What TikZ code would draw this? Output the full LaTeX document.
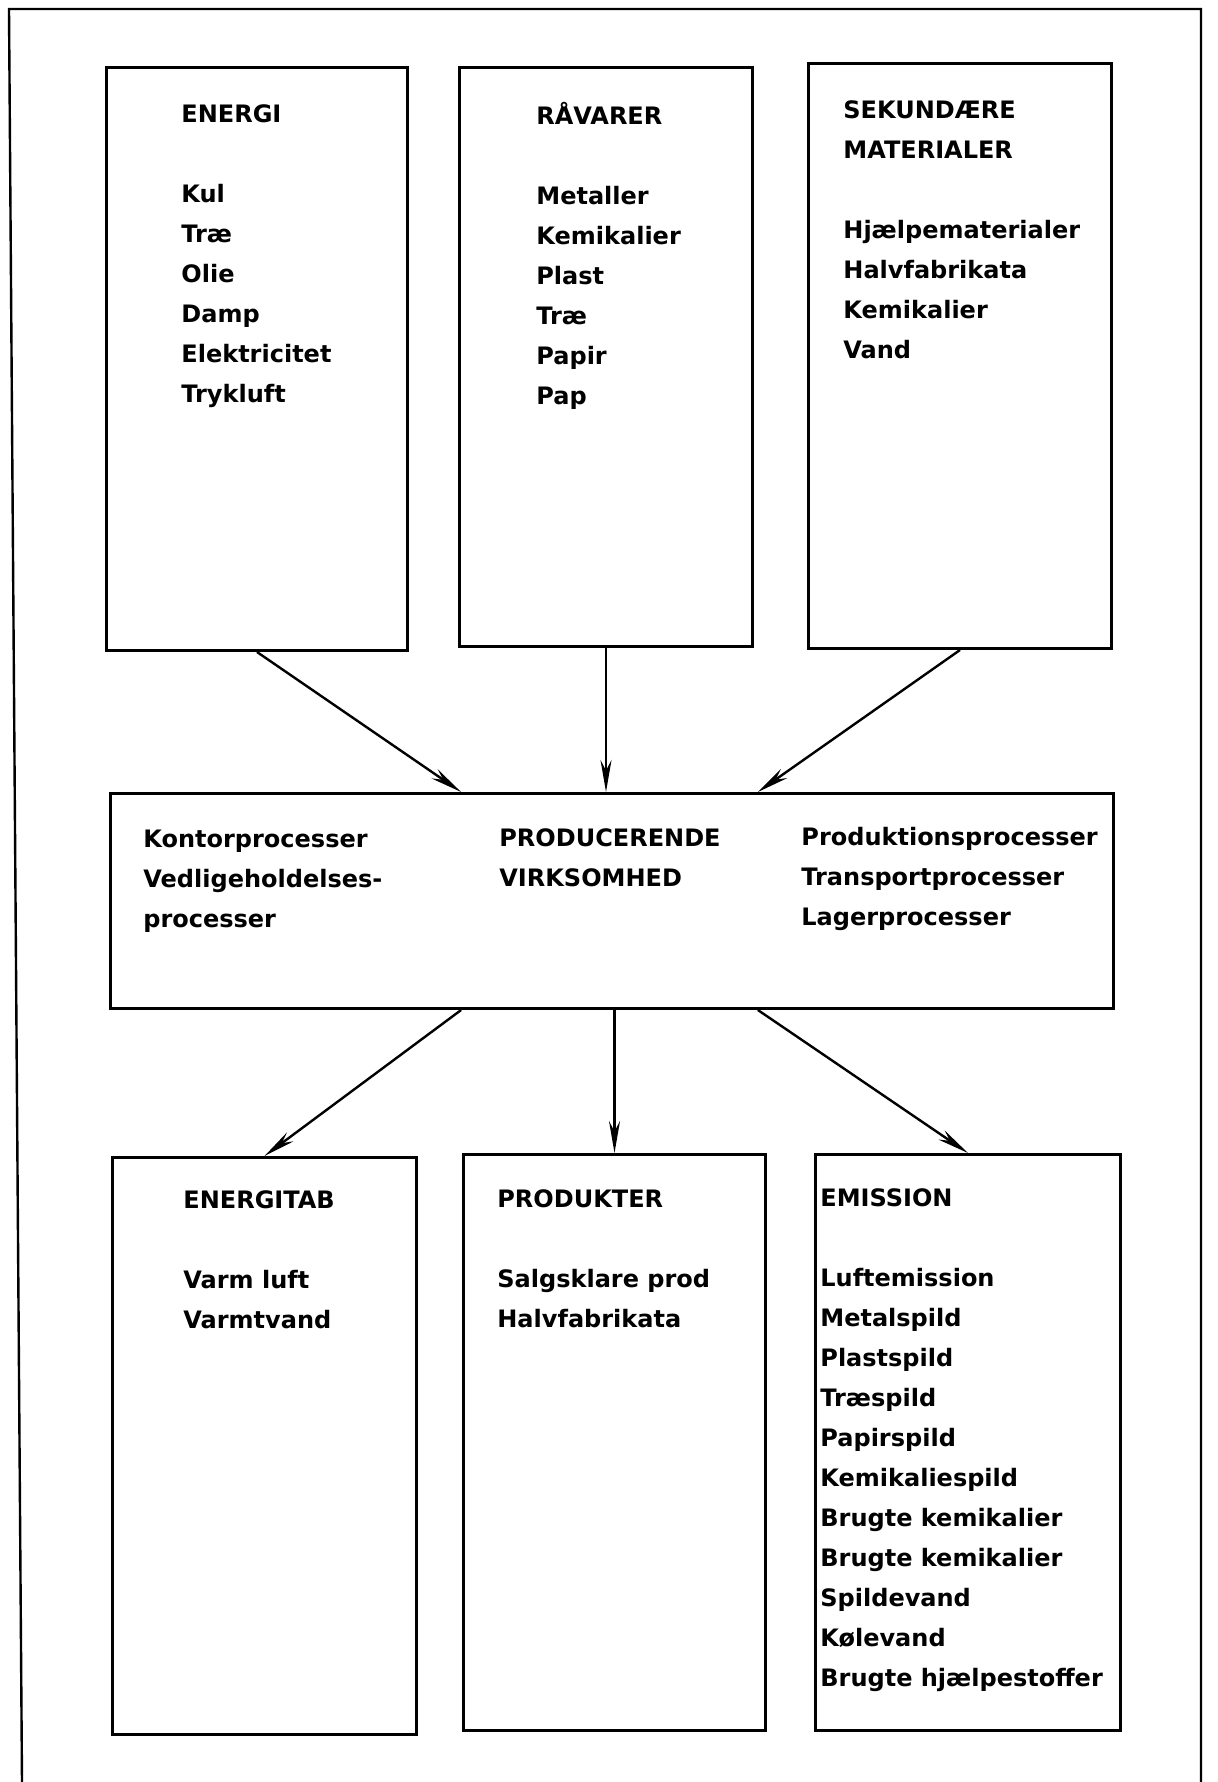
\documentclass[tikz,border=0pt]{standalone}
\usepackage{fontspec}
\setmainfont{DejaVu Sans}
\usepackage{tikz}
\usetikzlibrary{calc,arrows.meta}

\begin{document}
\begin{tikzpicture}[x=0.5pt,y=-0.5pt,
  box/.style={draw,line width=1.5pt,inner sep=0pt,anchor=north west},
  txt/.style={anchor=north west,inner sep=0pt,align=left,
    font=\fontsize{12}{20}\selectfont\bfseries},
  flow/.style={line width=1.2pt,-{Stealth[length=16pt,width=5.5pt]}}]
\useasboundingbox (0,0) rectangle (1217,1782);
% outer frame, open at the bottom
\draw[line width=1.2pt] (22,1782) -- (9,9) -- (1201,9) -- (1201,1782);

% input boxes
\node[box,minimum width=150.5pt,minimum height=291.5pt] (energi) at (105,66) {};
\node[box,minimum width=146.5pt,minimum height=289.5pt] (raavarer) at (458,66) {};
\node[box,minimum width=151.5pt,minimum height=292.5pt] (sekund) at (807,62) {};
\node[txt] (energiT) at (181,104) {ENERGI\\[20pt]Kul\\Træ\\Olie\\Damp\\Elektricitet\\Trykluft};
\node[txt] (raavarerT) at (536,102) {RÅVARER\\[20pt]Metaller\\Kemikalier\\Plast\\Træ\\Papir\\Pap};
\node[txt] (sekundT) at (843,100) {SEKUNDÆRE\\MATERIALER\\[20pt]Hjælpematerialer\\Halvfabrikata\\Kemikalier\\Vand};

% the company
\node[box,minimum width=501.5pt,minimum height=107.5pt] (virk) at (109,792) {};
\node[txt] (virkL) at (143,830) {Kontorprocesser\\Vedligeholdelses-\\processer};
\node[txt] (virkM) at (499,828) {PRODUCERENDE\\VIRKSOMHED};
\node[txt] (virkR) at (801,827) {Produktionsprocesser\\Transportprocesser\\Lagerprocesser};

% output boxes
\node[box,minimum width=152pt,minimum height=288.5pt] (tab) at (111,1156) {};
\node[box,minimum width=151pt,minimum height=288pt] (prod) at (462,1153) {};
\node[box,minimum width=152.5pt,minimum height=288pt] (emis) at (814,1153) {};
\node[txt] (tabT) at (183,1190) {ENERGITAB\\[20pt]Varm luft\\Varmtvand};
\node[txt] (prodT) at (497,1189) {PRODUKTER\\[20pt]Salgsklare prod\\Halvfabrikata};
\node[txt] (emisT) at (820,1188) {EMISSION\\[20pt]Luftemission\\Metalspild\\Plastspild\\Træspild\\Papirspild\\Kemikaliespild\\Brugte kemikalier\\Brugte kemikalier\\Spildevand\\Kølevand\\Brugte hjælpestoffer};

\draw[flow] (energi.south) -- ($(virk.north west)!.35!(virk.north east)$);
\draw[flow] (raavarer.south) -- (raavarer.south |- virk.north);
\draw[flow] (sekund.south) -- ($(virk.north west)!.645!(virk.north east)$);
\draw[flow] ($(virk.south west)!.35!(virk.south east)$) -- (tab.north);
\draw[flow] (prod.north |- virk.south) -- (prod.north);
\draw[flow] ($(virk.south west)!.645!(virk.south east)$) -- (emis.north);
\end{tikzpicture}
\end{document}
